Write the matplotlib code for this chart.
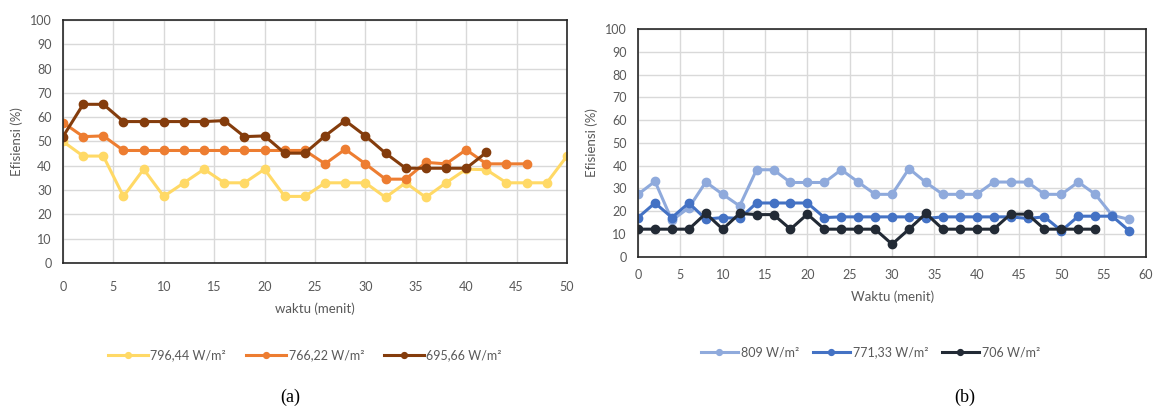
import matplotlib
matplotlib.use("Agg")
import matplotlib.pyplot as plt
from matplotlib.ticker import MultipleLocator

plt.rcParams["font.family"] = ["Lato", "DejaVu Sans"]

# chart (a)
t_a_yellow = list(range(0, 51, 2))
eff_796 = [50, 44, 44, 27.4, 38.6, 27.4, 33, 38.6, 33, 33, 38.6, 27.4, 27.4,
           33, 33, 33, 27, 33, 27, 33, 38.6, 38.4, 33, 33, 33, 44]
t_a_orange = list(range(0, 47, 2))
eff_766 = [57.8, 52, 52.3, 46.3, 46.3, 46.3, 46.3, 46.3, 46.3, 46.3, 46.3, 46.3,
           46.3, 40.8, 46.8, 40.8, 34.5, 34.5, 41.4, 40.8, 46.6, 40.8, 40.8, 40.8]
t_a_brown = list(range(0, 43, 2))
eff_695 = [52, 65.3, 65.3, 58.2, 58.2, 58.2, 58.2, 58.2, 58.6, 52, 52.3, 45.2,
           45.2, 52.3, 58.6, 52.3, 45.2, 39, 39, 39, 39, 45.5]
labels_a = ["796,44 W/m²", "766,22 W/m²", "695,66 W/m²"]

# chart (b)
t_b_light = list(range(0, 59, 2))
eff_809 = [27.4, 33.1, 16, 21.5, 32.8, 27.4, 22.3, 38.2, 38.2, 32.6, 32.6, 32.6,
           38.2, 32.8, 27.4, 27.4, 38.7, 32.6, 27.4, 27.4, 27.4, 32.8, 32.8, 32.8,
           27.4, 27.4, 32.8, 27.4, 18.2, 16.4]
t_b_blue = list(range(0, 59, 2))
eff_771 = [17.2, 23.6, 17.2, 23.6, 16.5, 17.2, 16.8, 23.6, 23.6, 23.6, 23.6, 17.2,
           17.5, 17.5, 17.5, 17.5, 17.5, 16.8, 17.5, 17.5, 17.5, 17.5, 17.5, 16.8,
           17.5, 11.4, 17.8, 17.8, 17.8, 11.4]
t_b_dark = list(range(0, 55, 2))
eff_706 = [12.1, 12.1, 12.1, 12.1, 19, 12.1, 19, 18.5, 18.5, 12.1, 18.7, 12.1,
           12.1, 12.1, 12.1, 5.5, 12.1, 19, 12.1, 12.1, 12.1, 12.1, 18.7, 18.7,
           12.1, 12.1, 12.1, 12.1]
labels_b = ["809 W/m²", "771,33 W/m²", "706 W/m²"]

TXT = "#595959"
GRID = "#d9d9d9"


def style_axes(ax, xmax, xlabel, xpad):
    ax.set_xlim(0, xmax)
    ax.set_ylim(0, 100)
    ax.xaxis.set_major_locator(MultipleLocator(5))
    ax.yaxis.set_major_locator(MultipleLocator(10))
    ax.grid(True, color=GRID, linewidth=1.0)
    ax.set_axisbelow(True)
    for s in ax.spines.values():
        s.set_color("#262626")
        s.set_linewidth(1.2)
    ax.tick_params(axis="both", length=0, labelsize=9, labelcolor=TXT)
    ax.tick_params(axis="x", pad=xpad)
    ax.tick_params(axis="y", pad=8)
    ax.set_ylabel("Efisiensi (%)", fontsize=9.5, color=TXT, labelpad=5)
    ax.set_xlabel(xlabel, fontsize=9.5, color=TXT, labelpad=7)


fig = plt.figure(figsize=(11.58, 4.08), dpi=100)

ax1 = fig.add_axes([0.0544, 0.3554, 0.4352, 0.5956])
series_a = [(t_a_yellow, eff_796, "#ffd966"),
            (t_a_orange, eff_766, "#ed7d31"),
            (t_a_brown, eff_695, "#843c0c")]
for (t, v, c), lab in zip(series_a, labels_a):
    ax1.plot(t, v, color=c, lw=2.2, marker="o", ms=6, label=lab)
style_axes(ax1, 50, "waktu (menit)", 13)
ax1.legend(loc="center", bbox_to_anchor=(0.48, -0.38), ncol=3, frameon=False,
           fontsize=9, labelcolor=TXT, handlelength=3.2, columnspacing=1.6,
           handletextpad=0.2, markerscale=0.7)

ax2 = fig.add_axes([0.5510, 0.3708, 0.4387, 0.558])
series_b = [(t_b_light, eff_809, "#8faadc"),
            (t_b_blue, eff_771, "#4472c4"),
            (t_b_dark, eff_706, "#222a35")]
for (t, v, c), lab in zip(series_b, labels_b):
    ax2.plot(t, v, color=c, lw=2.2, marker="o", ms=6, label=lab)
style_axes(ax2, 60, "Waktu (menit)", 9)
ax2.legend(loc="center", bbox_to_anchor=(0.457, -0.42), ncol=3, frameon=False,
           fontsize=9, labelcolor=TXT, handlelength=3.0, columnspacing=1.1,
           handletextpad=0.2, markerscale=0.7)

fig.text(290 / 1158, 1 - 397 / 408, "(a)", ha="center", va="center",
         fontsize=13, family=["Liberation Serif", "DejaVu Serif"])
fig.text(965 / 1158, 1 - 397 / 408, "(b)", ha="center", va="center",
         fontsize=13, family=["Liberation Serif", "DejaVu Serif"])

fig.savefig("out.png", dpi=100)
